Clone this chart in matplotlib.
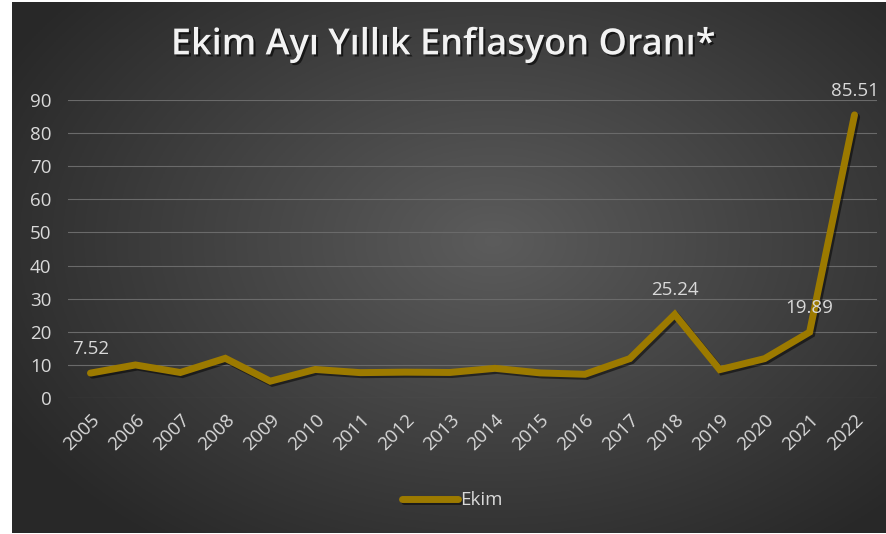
import numpy as np
import matplotlib.pyplot as plt
import matplotlib.patheffects as pe

years = [str(y) for y in range(2005, 2023)]
ekim = [7.52, 9.98, 7.70, 11.99, 5.08, 8.62, 7.66, 7.80, 7.71, 8.96,
        7.58, 7.16, 11.90, 25.24, 8.55, 11.89, 19.89, 85.51]
labelled = ['2005', '2018', '2021', '2022']
yticks = list(range(0, 100, 10))

plt.rcParams['font.family'] = ['Open Sans', 'DejaVu Sans']
txt = '#d9d9d9'
gold = '#9c7a00'

fig = plt.figure(figsize=(8.87, 5.34), dpi=100, facecolor='white')

# fondo con degradado radial
bg = fig.add_axes([12 / 887, 1 / 534, 875 / 887, 531 / 534])
gx, gy = np.meshgrid(np.linspace(-1, 1, 400), np.linspace(-1, 1, 250))
r = np.sqrt(((gx - 0.1) * 0.95) ** 2 + ((gy + 0.1) * 0.85) ** 2)
shade = 0.36 - 0.20 * np.clip(r, 0, 1.2) / 1.2
bg.imshow(np.dstack([shade] * 3), aspect='auto', extent=[0, 1, 0, 1])
bg.axis('off')

ax = fig.add_axes([68 / 887, (534 - 398) / 534, 809 / 887, 298 / 534])
ax.patch.set_alpha(0)
x = np.arange(len(years))
shadow = [pe.SimpleLineShadow(offset=(1.5, -1.5), shadow_color='black', alpha=0.5), pe.Normal()]
ax.plot(x, ekim, color=gold, lw=5, solid_joinstyle='miter', solid_capstyle='round',
        path_effects=shadow, label='Ekim', zorder=3)

for i, (yr, v) in enumerate(zip(years, ekim)):
    if yr in labelled:
        ax.annotate(f'{v:.2f}', (i, v), xytext=(0, 11), textcoords='offset points',
                    ha='center', va='bottom', color=txt, fontsize=13.5)

ax.set_xlim(-0.5, len(years) - 0.5)
ax.set_ylim(0, 90)
ax.set_yticks(yticks)
ax.set_xticks(x)
ax.set_xticklabels(years, rotation=45, ha='right', rotation_mode='anchor')
ax.tick_params(axis='both', colors=txt, labelsize=13.5, length=0)
ax.tick_params(axis='x', pad=9)
ax.tick_params(axis='y', pad=12)
ax.grid(axis='y', color='#6a6a6a', lw=0.8)
ax.set_axisbelow(True)
for s in ax.spines.values():
    s.set_visible(False)

fig.text(0.5, 0.915, 'Ekim Ayı Yıllık Enflasyon Oranı*', ha='center', va='center',
         color='#f2f2f2', fontsize=26, fontweight='semibold',
         path_effects=[pe.withSimplePatchShadow(offset=(1.5, -1.5), shadow_rgbFace='black', alpha=0.6)])

leg = fig.legend(loc='center', bbox_to_anchor=(0.51, 0.063), frameon=False,
                 labelcolor=txt, fontsize=13.5, handlelength=3, handletextpad=0.1)

fig.savefig('out.png', dpi=100, facecolor='white')
